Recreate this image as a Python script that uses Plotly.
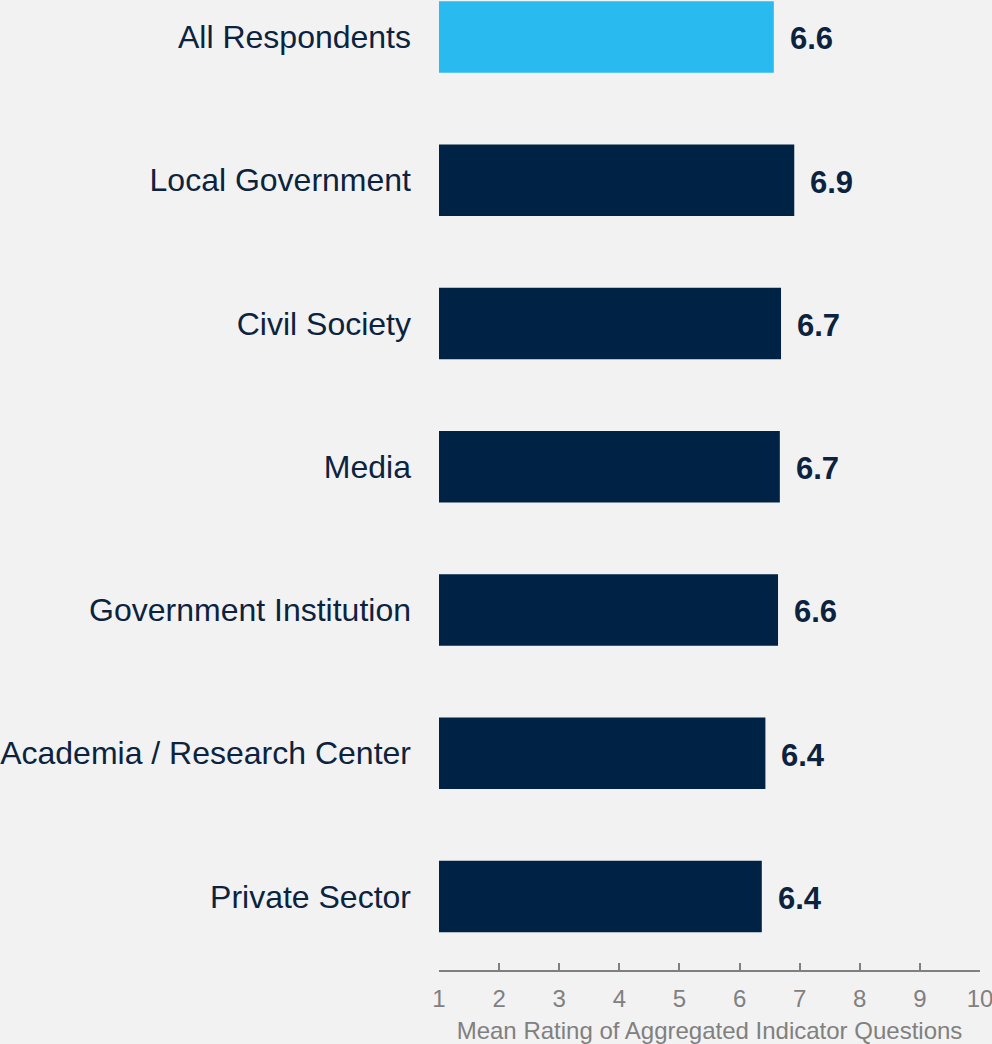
import plotly.graph_objects as go

categories = ["All Respondents", "Local Government", "Civil Society", "Media",
              "Government Institution", "Academia / Research Center", "Private Sector"]
values = [6.57, 6.91, 6.69, 6.67, 6.64, 6.43, 6.37]
value_labels = ["6.6", "6.9", "6.7", "6.7", "6.6", "6.4", "6.4"]
bar_colors = ["#29BBEF", "#002244", "#002244", "#002244", "#002244", "#002244", "#002244"]
x_ticks = [1, 2, 3, 4, 5, 6, 7, 8, 9, 10]
x_title = "Mean Rating of Aggregated Indicator Questions"

FONT = "Liberation Sans, Arial, sans-serif"
NAVY = "#0C2340"
GRAY = "#808080"

fig = go.Figure()
fig.add_trace(go.Bar(
    y=categories,
    x=[v - 1 for v in values],
    base=1,
    orientation="h",
    marker=dict(color=bar_colors, line=dict(width=0)),
    width=0.5,
    hoverinfo="skip",
))

for c, v, t in zip(categories, values, value_labels):
    fig.add_annotation(
        x=v, y=c, text="<b>%s</b>" % t, showarrow=False,
        xanchor="left", yanchor="middle", xshift=14, yshift=-2,
        font=dict(family=FONT, size=31, color=NAVY),
    )

fig.update_layout(
    template="none",
    width=992, height=1044,
    paper_bgcolor="#F2F2F2", plot_bgcolor="#F2F2F2",
    margin=dict(l=439, r=12, t=0, b=74, autoexpand=False),
    showlegend=False,
    xaxis=dict(
        range=[1, 10], tickvals=x_ticks, ticktext=[str(t) for t in x_ticks],
        showgrid=False, zeroline=False, showline=True, linecolor=GRAY, linewidth=1.5,
        ticks="inside", ticklen=7, tickcolor=GRAY, tickwidth=1.5,
        tickfont=dict(family=FONT, size=24, color=GRAY),
        ticklabelstandoff=6, ticklabeloverflow="allow",
        title=dict(text=x_title, font=dict(family=FONT, size=24, color=GRAY), standoff=12),
        automargin=False, fixedrange=True,
    ),
    yaxis=dict(
        type="category", categoryorder="array", categoryarray=categories,
        range=[6.513, -0.258], showgrid=False, zeroline=False, showline=False,
        ticks="", tickfont=dict(family=FONT, size=32, color=NAVY),
        ticklabelstandoff=27, automargin=False, fixedrange=True,
    ),
)

fig.write_html(
    "out.html",
    config={"displayModeBar": False},
    post_script="document.body.style.margin='0';document.body.style.background='#F2F2F2';",
)
